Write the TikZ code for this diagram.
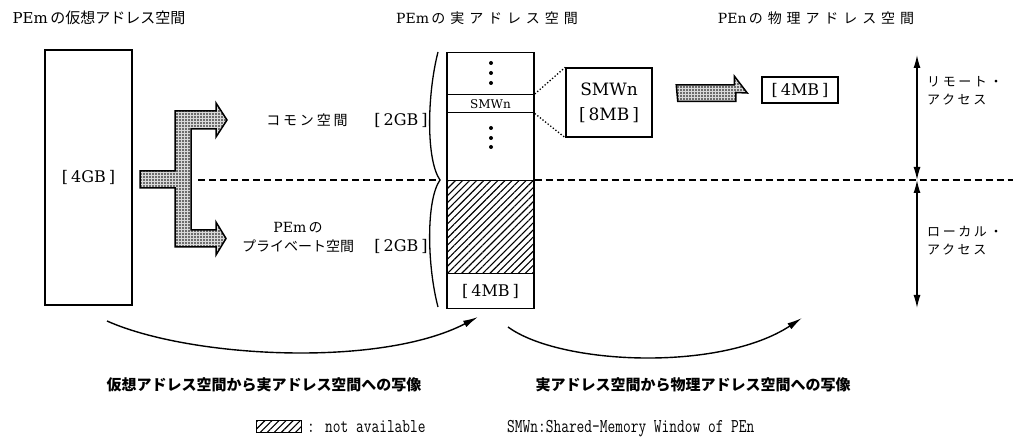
\documentclass[tikz,border=0pt]{standalone}
\usepackage{fontspec}
\usetikzlibrary{shapes,arrows.meta,patterns,patterns.meta,positioning}
\setmainfont{DejaVu Serif}
\newfontfamily\jp{Noto Sans CJK JP}
\newfontfamily\jpw[LetterSpace=35]{Noto Sans CJK JP}
\newfontfamily\jps[LetterSpace=20]{Noto Sans CJK JP}
\newcommand{\bkt}[1]{[\kern3pt#1\kern3pt]}
\newcommand{\tallmono}[1]{\scalebox{1}[1.3]{#1}}
\tikzstyle{ttl}=[font=\fontsize{14}{17}\selectfont, inner sep=0pt]
\tikzstyle{lbl}=[font=\fontsize{14}{19}\selectfont, inner sep=0pt, align=center]
\tikzstyle{side}=[font=\fontsize{13}{18}\selectfont\jps, inner sep=0pt, align=left, anchor=west]
\tikzstyle{big}=[font=\fontsize{16}{20}\selectfont]
\tikzstyle{frame}=[rectangle, draw, line width=1.5pt, inner sep=0pt]
\tikzstyle{cell}=[frame, minimum width=87pt, anchor=north]
\tikzstyle{dotfill}=[draw, line width=1.5pt, preaction={fill=gray!30}, pattern={Dots[distance=3pt,radius=0.8pt]}]
\tikzstyle{hatched}=[pattern={Lines[angle=45,distance=5pt,line width=1.1pt]}]
\tikzstyle{divider}=[line width=2.2pt, dash pattern=on 7pt off 4pt]
\tikzstyle{zoomline}=[line width=1.3pt, dotted]
\tikzstyle{dblarr}=[{Latex[length=13pt,width=7pt]}-{Latex[length=13pt,width=7pt]}, line width=1.3pt]
\tikzstyle{maparr}=[-{Latex[length=15pt,width=7pt]}, line width=1.4pt]
\tikzstyle{captext}=[font=\fontsize{15}{18}\selectfont\jp\bfseries]
\tikzstyle{mono}=[font=\fontsize{15}{18}\ttfamily, inner sep=0pt]

\begin{document}
\begin{tikzpicture}[x=1pt, y=-1pt]
\useasboundingbox (0,0) rectangle (1013,438);
% titles
\node[ttl, font=\fontsize{15}{17}\selectfont] (tv) at (99,18) {PEm\,{\jp の仮想アドレス空間}};
\node[ttl] (tr) at (487,18) {PEm\,{\jpw の実アドレス空間}};
\node[ttl] (tp) at (816,18) {PEn\,{\jpw の物理アドレス空間}};

% virtual space
\node[frame, minimum width=87pt, minimum height=255pt, big] (vbox) at (88.5,177.5) {\bkt{4GB}};
\draw[dotfill] (140,171) -- (175,171) -- (175,111) -- (216,111) -- (216,103) -- (227,120)
  -- (216,137) -- (216,129) -- (191,129) -- (191,230) -- (216,230) -- (216,222)
  -- (226,238.5) -- (216,255) -- (216,247) -- (175,247) -- (175,188) -- (140,188) -- cycle;

% real space of PEm
\node[cell, minimum height=42pt] (ctop) at (490.5,52) {};
\node[cell, minimum height=18pt, font=\fontsize{12}{15}\selectfont] (smw) at (490.5,94) {SMWn};
\node[cell, minimum height=68pt] (cmid) at (490.5,112) {};
\node[cell, minimum height=93pt, hatched] (cna) at (490.5,180) {};
\node[cell, minimum height=35pt, big] (clow) at (490.5,273) {\bkt{4MB}};
\foreach \y in {63,73,83,128,138,147}
  \fill (491,\y) circle (2pt);

\coordinate (cusp) at (440,180);
\draw[line width=1.3pt] (438,52) .. controls (427,95) and (426,160) .. (cusp)
  .. controls (426,200) and (427,265) .. (438,307);
\node[lbl] (common) at (307,120) {\jps コモン空間};
\node[big] (g1) at (401,120) {\bkt{2GB}};
\node[lbl] (priv) at (298,237) {PEm\,{\jp の}\\{\jp プライベート空間}};
\node[big] (g2) at (401,246) {\bkt{2GB}};

% border remote / local
\coordinate (dl) at (198,180);
\coordinate (dr) at (1013,180);
\draw[divider] (dl) -- (cusp);
\draw[divider] (cna.north east) -- (dr);

% physical space of PEn
\node[frame, minimum width=86pt, minimum height=69pt, align=center, font=\fontsize{17}{25}\selectfont] (smwbox) at (609,102.5) {SMWn\\{}\bkt{8MB}};
\draw[zoomline] (smw.north east) -- (smwbox.north west);
\draw[zoomline] (smw.south east) -- (smwbox.south west);
\node[frame, minimum width=76pt, minimum height=26pt, big] (pbox) at (800,90) {\bkt{4MB}};
\draw[dotfill] ([xshift=25pt,yshift=-8.5pt]smwbox.east |- 0,93) -- ++(58,0) -- ++(0,-9) -- ([xshift=-14pt]pbox.west |- 0,93)
  -- ++(-13,-17) -- ++(0,9) -- ++(-58,0) -- cycle;

% access kinds
\coordinate (at) at (917,55);
\coordinate (am) at (917,180);
\coordinate (ab) at (917,308);
\draw[dblarr] (at) -- (am);
\draw[dblarr] (am) -- (ab);
\node[side] (remote) at (927,91) {リモート・\\アクセス};
\node[side] (local) at (927,241) {ローカル・\\アクセス};

% mappings
\coordinate (m1a) at (107,321);
\coordinate (m1b) at (478,317);
\coordinate (m2a) at (508,327);
\coordinate (m2b) at (802,318);
\draw[maparr] (m1a) .. controls (190,358) and (380,368) .. (m1b);
\draw[maparr] (m2a) .. controls (560,365) and (720,372) .. (m2b);
\node[captext] (cap1) at (264,385) {仮想アドレス空間から実アドレス空間への写像};
\node[captext] (cap2) at (693,385) {実アドレス空間から物理アドレス空間への写像};

% legend
\node[frame, line width=1pt, minimum width=45pt, minimum height=12pt, hatched] (key) at (279,427) {};
\node[mono, right=5pt of key] (keytxt) {\tallmono{: not available}};
\node[mono, anchor=west] (note) at (507,429) {\tallmono{SMWn:Shared-Memory Window of PEn}};
\end{tikzpicture}
\end{document}
